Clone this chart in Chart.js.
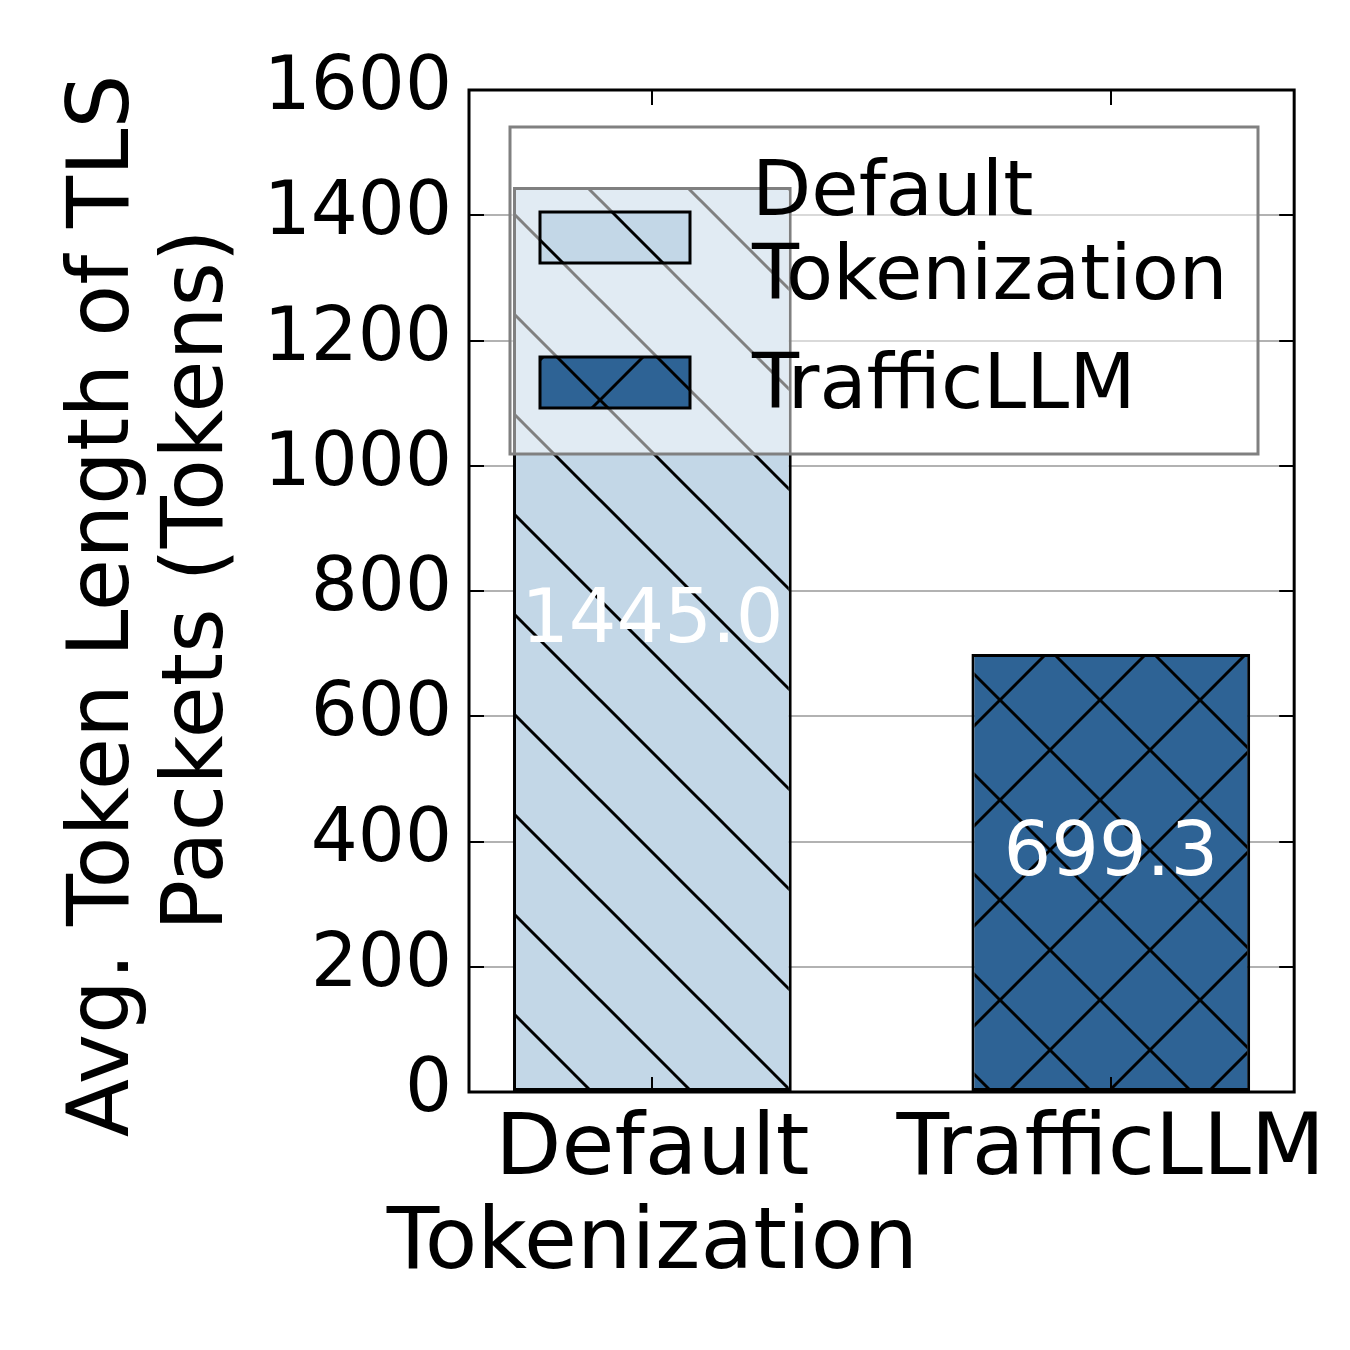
<!DOCTYPE html>
<html>
<head>
<meta charset="utf-8">
<script src="https://cdn.jsdelivr.net/npm/chart.js@4.4.1/dist/chart.umd.min.js"></script>
<style>
html,body{margin:0;padding:0;background:#fff;}
canvas{display:block;}
</style>
</head>
<body>
<canvas id="c" width="1350" height="1350"></canvas>
<script>
// ---- data ----
const categories = [['Default', 'Tokenization'], ['TrafficLLM']];
const values = [1445.0, 699.3];
const yTicks = [0, 200, 400, 600, 800, 1000, 1200, 1400, 1600];
const yTitle = ['Avg. Token Length of TLS', 'Packets (Tokens)'];
const barColors = ['#c3d7e7', '#2e6395'];
const hatchCross = [false, true];

const FONT = '"DejaVu Sans", sans-serif';

function makeHatch(color, cross) {
  const s = 100;
  const c = document.createElement('canvas');
  c.width = s; c.height = s;
  const g = c.getContext('2d');
  g.fillStyle = color;
  g.fillRect(0, 0, s, s);
  g.strokeStyle = '#000';
  g.lineWidth = 3;
  const seg = (a, b, d, e) => { g.beginPath(); g.moveTo(a, b); g.lineTo(d, e); g.stroke(); };
  seg(-5, -5, 105, 105);
  seg(95, -5, 105, 5);
  seg(-5, 95, 5, 105);
  if (cross) {
    seg(105, -5, -5, 105);
    seg(-5, 5, 5, -5);
    seg(95, 105, 105, 95);
  }
  return g.createPattern(c, 'repeat');
}

const patterns = barColors.map((col, i) => makeHatch(col, hatchCross[i]));

const decorPlugin = {
  id: 'decor',
  afterDatasetsDraw(chart) {
    const ctx = chart.ctx;
    const y = chart.scales.y;
    const meta = chart.getDatasetMeta(0);
    ctx.save();
    ctx.fillStyle = '#fff';
    ctx.font = '75px ' + FONT;
    ctx.textAlign = 'center';
    ctx.textBaseline = 'alphabetic';
    meta.data.forEach((bar, i) => {
      const v = values[i];
      ctx.fillText(v.toFixed(1), bar.x, y.getPixelForValue(v / 2) + 2);
    });
    ctx.restore();
  },
  afterDraw(chart) {
    const ctx = chart.ctx;
    const a = chart.chartArea;
    const xs = chart.scales.x, ys = chart.scales.y;
    ctx.save();
    ctx.strokeStyle = '#000';
    ctx.lineWidth = 2;
    const tl = 15;
    ys.ticks.forEach(t => {
      const py = Math.round(ys.getPixelForValue(t.value));
      ctx.beginPath();
      ctx.moveTo(a.left, py); ctx.lineTo(a.left + tl, py);
      ctx.moveTo(a.right, py); ctx.lineTo(a.right - tl, py);
      ctx.stroke();
    });
    xs.ticks.forEach(t => {
      const px = Math.round(xs.getPixelForValue(t.value));
      ctx.beginPath();
      ctx.moveTo(px, a.bottom); ctx.lineTo(px, a.bottom - tl);
      ctx.moveTo(px, a.top); ctx.lineTo(px, a.top + tl);
      ctx.stroke();
    });
    ctx.lineWidth = 3;
    ctx.strokeRect(a.left, a.top, a.right - a.left, a.bottom - a.top);

    // legend
    const lx = 510, ly = 127, lw = 748, lh = 327;
    ctx.fillStyle = 'rgba(255,255,255,0.5)';
    ctx.fillRect(lx, ly, lw, lh);
    ctx.strokeStyle = '#808080';
    ctx.lineWidth = 3;
    ctx.strokeRect(lx, ly, lw, lh);
    const handleY = [212, 357];
    const textBase = [[215, 299], [408]];
    ctx.font = '77px ' + FONT;
    ctx.textAlign = 'left';
    ctx.textBaseline = 'alphabetic';
    categories.forEach((lines, i) => {
      ctx.fillStyle = patterns[i];
      ctx.fillRect(540, handleY[i], 150, 51);
      ctx.strokeStyle = '#000';
      ctx.lineWidth = 3;
      ctx.strokeRect(540, handleY[i], 150, 51);
      ctx.fillStyle = '#000';
      lines.forEach((ln, k) => ctx.fillText(ln, 752, textBase[i][k]));
    });

    // y axis title
    ctx.fillStyle = '#000';
    ctx.font = '85px ' + FONT;
    ctx.textAlign = 'center';
    ctx.textBaseline = 'alphabetic';
    const tpos = [[128, 606], [222, 580]];
    yTitle.forEach((ln, k) => {
      ctx.save();
      ctx.translate(tpos[k][0], tpos[k][1]);
      ctx.rotate(-Math.PI / 2);
      ctx.fillText(ln, 0, 0);
      ctx.restore();
    });
    ctx.restore();
  }
};

new Chart(document.getElementById('c'), {
  type: 'bar',
  data: {
    datasets: [{
      data: values.map((v, i) => ({ x: i, y: v })),
      backgroundColor: patterns,
      borderColor: '#000',
      borderWidth: 3,
      borderSkipped: false,
      categoryPercentage: 1.0,
      barPercentage: 0.608
    }]
  },
  options: {
    responsive: false,
    animation: false,
    devicePixelRatio: 1,
    layout: { padding: { left: 0, top: 90, right: 54, bottom: 0 } },
    plugins: { legend: { display: false }, tooltip: { enabled: false } },
    scales: {
      x: {
        type: 'linear',
        min: -0.4,
        max: 1.4,
        offset: false,
        grid: { display: false, drawTicks: false, offset: false },
        border: { display: false },
        afterBuildTicks: (s) => { s.ticks = categories.map((c, i) => ({ value: i })); },
        afterFit: (s) => { s.height = 258; },
        ticks: {
          callback: (v) => categories[v],
          color: '#000',
          font: { family: FONT, size: 86, lineHeight: 94 / 86 },
          padding: 13,
          maxRotation: 0,
          autoSkip: false
        }
      },
      y: {
        min: 0,
        max: 1600,
        z: 1,
        afterBuildTicks: (s) => { s.ticks = yTicks.map(v => ({ value: v })); },
        afterFit: (s) => { s.width = 469; },
        grid: { color: 'rgba(0,0,0,0.3)', lineWidth: 2, drawTicks: false },
        border: { display: false },
        ticks: {
          color: '#000',
          font: { family: FONT, size: 74 },
          padding: 17,
          callback: (v) => String(v)
        }
      }
    }
  },
  plugins: [decorPlugin]
});
</script>
</body>
</html>
